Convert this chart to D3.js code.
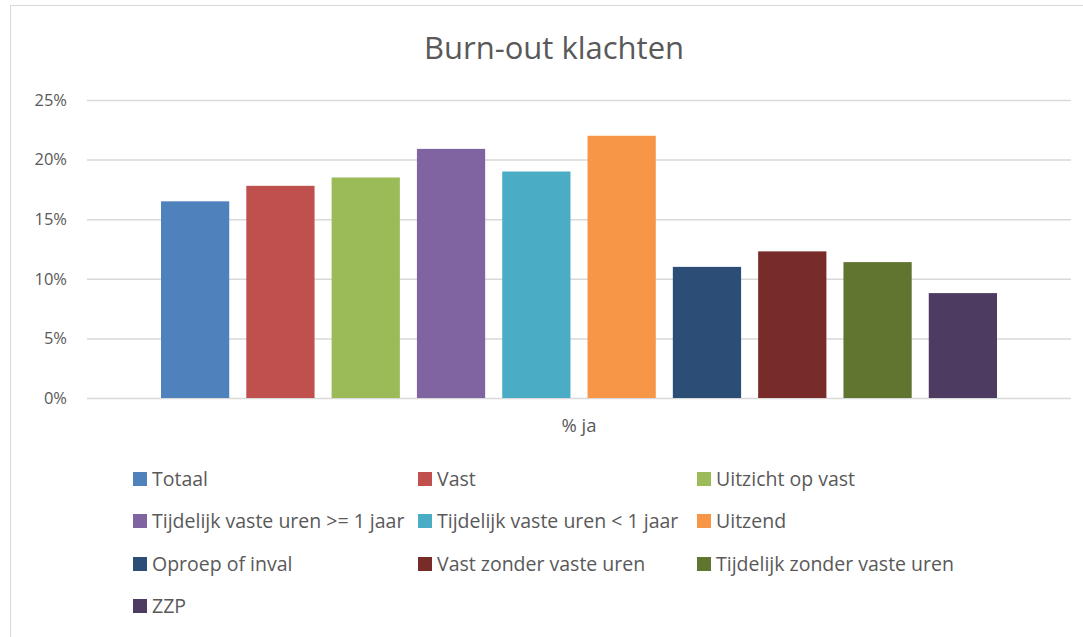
<!DOCTYPE html>
<html><head><meta charset="utf-8">
<script src="https://cdn.jsdelivr.net/npm/d3@7"></script>
<style>body{margin:0;background:#fff}svg{display:block}text{font-family:"Open Sans",Lato,sans-serif;fill:#595959}</style>
</head><body><svg id="c" width="1083" height="637"></svg>
<script>
const categories = ["% ja"];
const seriesNames = ["Totaal","Vast","Uitzicht op vast","Tijdelijk vaste uren >= 1 jaar","Tijdelijk vaste uren < 1 jaar","Uitzend","Oproep of inval","Vast zonder vaste uren","Tijdelijk zonder vaste uren","ZZP"];
const seriesValues = [0.165,0.178,0.185,0.209,0.190,0.220,0.110,0.123,0.114,0.088];
const seriesColors = ["#4F81BD","#C0504D","#9BBB59","#8064A2","#4BACC6","#F79646","#2C4D75","#772C2A","#5F7530","#4D3B62"];
const yTicks = [0,0.05,0.10,0.15,0.20,0.25];
const title = "Burn-out klachten";

(function(){
const svg = d3.select("#c");
svg.append("rect").attr("x",10.5).attr("y",5.5).attr("width",1100).attr("height",700).attr("fill","#fff").attr("stroke","#d9d9d9");

const pl = 87, pr = 1071, pt = 100, pb = 398;
const y = d3.scaleLinear().domain([0,0.25]).range([pb, pt]);
const x0 = d3.scaleBand().domain(categories).range([pl,pr]).paddingInner(0).paddingOuter(0.0885);
const x1 = d3.scaleBand().domain(seriesNames).range([0,x0.bandwidth()]).paddingInner(0.2).paddingOuter(0);

svg.append("text").attr("x",554).attr("y",59).attr("text-anchor","middle").attr("font-size",31).text(title);

const yAxis = d3.axisLeft(y).tickValues(yTicks).tickFormat(d3.format(".0%")).tickSize(-(pr-pl)).tickPadding(20);
const ga = svg.append("g").attr("transform",`translate(${pl},0)`).call(yAxis);
ga.select(".domain").remove();
ga.selectAll(".tick line").attr("stroke","#d9d9d9").attr("stroke-width",1.5);
ga.selectAll(".tick text").attr("font-size",16.5).attr("font-family","'Open Sans', sans-serif").attr("fill","#595959");

const g = svg.append("g");
categories.forEach(cat => {
  g.selectAll("rect.bar").data(seriesNames).join("rect").attr("class","bar")
    .attr("x",(d)=>x0(cat)+x1(d)).attr("width",x1.bandwidth())
    .attr("y",(d,i)=>y(seriesValues[i])).attr("height",(d,i)=>pb-y(seriesValues[i]))
    .attr("fill",(d,i)=>seriesColors[i]);
  svg.append("text").attr("x",x0(cat)+x0.bandwidth()/2).attr("y",432).attr("text-anchor","middle").attr("font-size",18.5).text(cat);
});

const colX = [133,418,697], rowY = [479,521,564,606];
const lg = svg.append("g");
seriesNames.forEach((n,i)=>{
  const cx = colX[i%3], cy = rowY[Math.floor(i/3)];
  lg.append("rect").attr("x",cx).attr("y",cy-7).attr("width",14).attr("height",14).attr("fill",seriesColors[i]);
  lg.append("text").attr("x",cx+19).attr("y",cy+7).attr("font-size",19.5).text(n);
});
})();
</script></body></html>
